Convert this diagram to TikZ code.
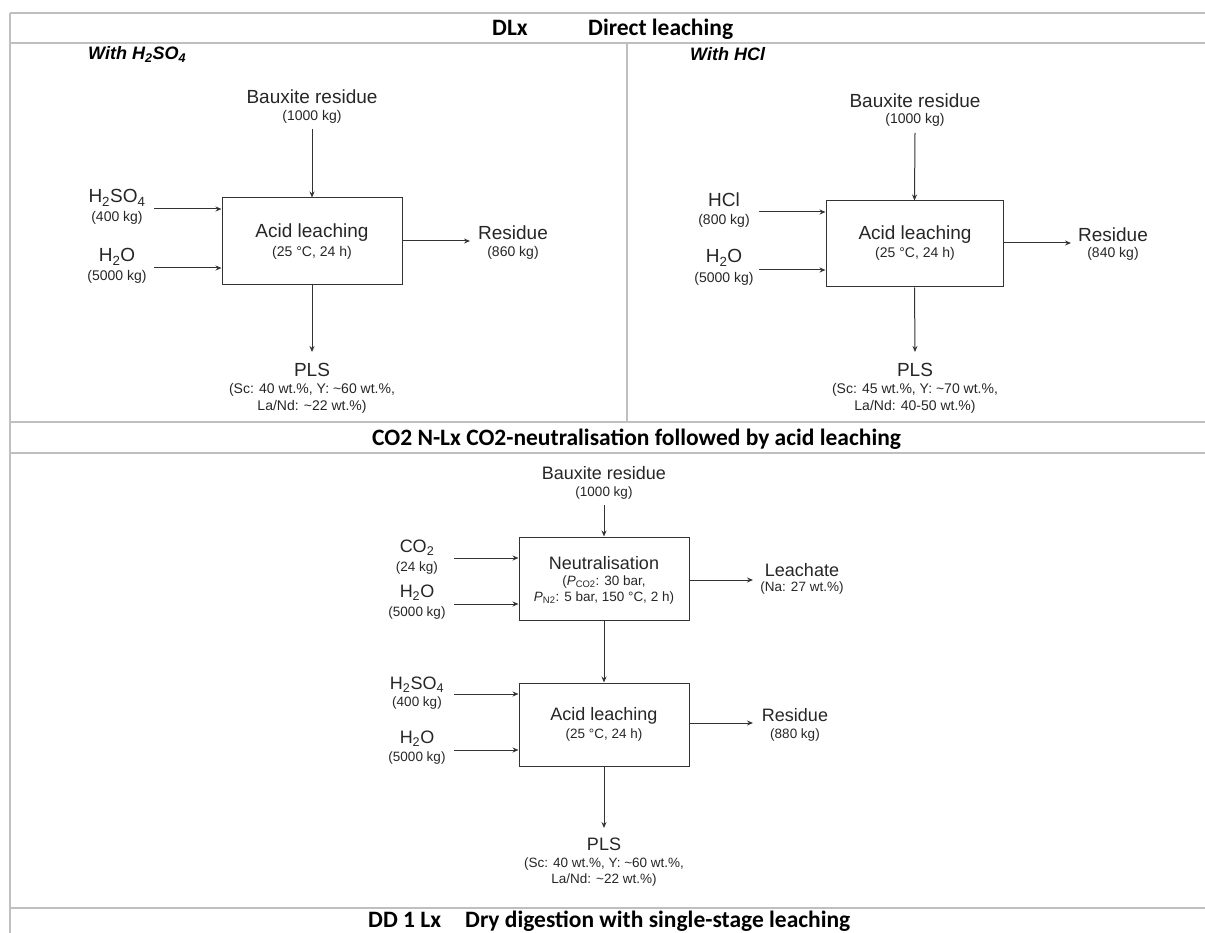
\documentclass[tikz,border=0pt]{standalone}
\usepackage{fontspec}
\setmainfont{Liberation Sans}
\newfontfamily\titlefont{Carlito}
\usetikzlibrary{arrows.meta}
\newcommand{\chsub}[1]{\textsubscript{#1}}
\begin{document}
\begin{tikzpicture}[x=1pt,y=-1pt,
    rule/.style={draw=black!25,line width=1.5pt},
    head/.style={font=\titlefont\bfseries\fontsize{23.5}{28}\selectfont,anchor=base west,inner sep=0pt},
    subhead/.style={font=\bfseries\itshape\fontsize{18}{21}\selectfont,anchor=base west,inner sep=0pt},
    lbl/.style={font=\fontsize{18}{21}\selectfont,text=black!85,inner sep=1pt},
    qty/.style={font=\fontsize{13.5}{16}\selectfont,text=black!85,inner sep=1pt,align=center},
    lblw/.style={font=\fontsize{19}{22}\selectfont,text=black!85,inner sep=1pt},
    qtyw/.style={font=\fontsize{14}{17}\selectfont,text=black!85,inner sep=1pt,align=center},
    proc/.style={draw=black!80,line width=1pt,inner sep=0pt},
    flow/.style={draw=black!80,line width=1pt,-{Stealth[length=6pt,width=5pt]}}]
    \useasboundingbox (0,0) rectangle (1205,933);
    \draw[rule] (10,13) -- (10,933);
    \draw[rule] (10,13) -- (1205,13);
    \draw[rule] (10,43) -- (1205,43);
    \draw[rule] (627,43) -- (627,422);
    \draw[rule] (10,422) -- (1205,422);
    \draw[rule] (10,453) -- (1205,453);
    \draw[rule] (10,908) -- (1205,908);
    \node[head] (dlx) at (492,35.5) {DLx};
    \node[head] (dlxname) at (588,35.5) {Direct leaching};
    \node[head] (nlx) at (372,445) {CO2 N-Lx CO2-neutralisation followed by acid leaching};
    \node[head] (ddlx) at (368,927) {DD 1 Lx};
    \node[head] (ddlxname) at (465,927) {Dry digestion with single-stage leaching};
    \node[subhead] (withA) at (88,60) {With H\chsub{2}SO\chsub{4}};
    \node[subhead] (withB) at (690,61) {With HCl};

    \node[lblw] (bauxA) at (312,97) {Bauxite residue};
    \node[qtyw] (bauxAq) at (312,117) {(1000 kg)};
    \node[proc,minimum width=180pt,minimum height=87pt] (leachA) at (312,241.5) {};
    \node[lblw] (leachAt) at (312,233) {Acid leaching};
    \node[qtyw] (leachAq) at (312,253) {(25 °C, 24 h)};
    \node[lblw] (acidA) at (117,198) {H\chsub{2}SO\chsub{4}};
    \node[qtyw] (acidAq) at (117,218) {(400 kg)};
    \node[lblw] (waterA) at (117,257) {H\chsub{2}O};
    \node[qtyw] (waterAq) at (117,277) {(5000 kg)};
    \node[lblw] (resA) at (513,233) {Residue};
    \node[qtyw] (resAq) at (513,253) {(860 kg)};
    \node[lblw] (plsA) at (312,370) {PLS};
    \node[qtyw] (plsAq) at (312,398) {(Sc: 40 wt.\%, Y: \textasciitilde60 wt.\%,\\La/Nd: \textasciitilde22 wt.\%)};
    \coordinate (topA) at (312,129);
    \coordinate (inA1) at (154,209);
    \coordinate (inA2) at (154,268);
    \coordinate (outA) at (470,241);
    \coordinate (downA) at (312,352);
    \draw[flow] (topA) -- (leachA.north);
    \draw[flow] (inA1) -- (inA1 -| leachA.west);
    \draw[flow] (inA2) -- (inA2 -| leachA.west);
    \draw[flow] (outA -| leachA.east) -- (outA);
    \draw[flow] (leachA.south) -- (downA);

    \node[lblw] (bauxB) at (915,101) {Bauxite residue};
    \node[qtyw] (bauxBq) at (915,120) {(1000 kg)};
    \node[proc,minimum width=177pt,minimum height=86pt] (leachB) at (914.5,244) {};
    \node[lblw] (leachBt) at (915,235) {Acid leaching};
    \node[qtyw] (leachBq) at (915,254) {(25 °C, 24 h)};
    \node[lblw] (acidB) at (724,200) {HCl};
    \node[qtyw] (acidBq) at (724,221) {(800 kg)};
    \node[lblw] (waterB) at (724,258) {H\chsub{2}O};
    \node[qtyw] (waterBq) at (724,279) {(5000 kg)};
    \node[lblw] (resB) at (1113,235) {Residue};
    \node[qtyw] (resBq) at (1113,254) {(840 kg)};
    \node[lblw] (plsB) at (915,370) {PLS};
    \node[qtyw] (plsBq) at (915,398) {(Sc: 45 wt.\%, Y: \textasciitilde70 wt.\%,\\La/Nd: 40-50 wt.\%)};
    \coordinate (topB) at (915,133);
    \coordinate (inB1) at (759,212);
    \coordinate (inB2) at (759,270);
    \coordinate (outB) at (1071,243);
    \coordinate (downB) at (915,352);
    \draw[flow] (topB) -- (leachB.north);
    \draw[flow] (inB1) -- (inB1 -| leachB.west);
    \draw[flow] (inB2) -- (inB2 -| leachB.west);
    \draw[flow] (outB -| leachB.east) -- (outB);
    \draw[flow] (leachB.south) -- (downB);

    \node[lbl] (bauxC) at (604,473) {Bauxite residue};
    \node[qty] (bauxCq) at (604,493) {(1000 kg)};
    \node[proc,minimum width=170pt,minimum height=83pt] (neut) at (604,578.5) {};
    \node[lbl] (neutt) at (604,563) {Neutralisation};
    \node[qty] (neutq) at (604,590) {(\textit{P}\chsub{CO2}: 30 bar,\\\textit{P}\chsub{N2}: 5 bar, 150 °C, 2 h)};
    \node[lbl] (co2) at (417,548) {CO\chsub{2}};
    \node[qty] (co2q) at (417,568) {(24 kg)};
    \node[lbl] (waterC) at (417,593) {H\chsub{2}O};
    \node[qty] (waterCq) at (417,613) {(5000 kg)};
    \node[lbl] (leachate) at (802,570) {Leachate};
    \node[qty] (leachateq) at (802,588) {(Na: 27 wt.\%)};
    \node[proc,minimum width=170pt,minimum height=83pt] (leachC) at (604,724.5) {};
    \node[lbl] (leachCt) at (604,716) {Acid leaching};
    \node[qty] (leachCq) at (604,735) {(25 °C, 24 h)};
    \node[lbl] (acidC) at (417,685) {H\chsub{2}SO\chsub{4}};
    \node[qty] (acidCq) at (417,703) {(400 kg)};
    \node[lbl] (waterD) at (417,739) {H\chsub{2}O};
    \node[qty] (waterDq) at (417,758) {(5000 kg)};
    \node[lbl] (resC) at (795,715) {Residue};
    \node[qty] (resCq) at (795,735) {(880 kg)};
    \node[lbl] (plsC) at (604,844) {PLS};
    \node[qty] (plsCq) at (604,872) {(Sc: 40 wt.\%, Y: \textasciitilde60 wt.\%,\\La/Nd: \textasciitilde22 wt.\%)};
    \coordinate (topC) at (604,505);
    \coordinate (inC1) at (454,558);
    \coordinate (inC2) at (454,604);
    \coordinate (outC1) at (753,580);
    \coordinate (inC3) at (454,694);
    \coordinate (inC4) at (454,750);
    \coordinate (outC2) at (753,723);
    \coordinate (downC) at (604,828);
    \draw[flow] (topC) -- (neut.north);
    \draw[flow] (inC1) -- (inC1 -| neut.west);
    \draw[flow] (inC2) -- (inC2 -| neut.west);
    \draw[flow] (outC1 -| neut.east) -- (outC1);
    \draw[flow] (neut.south) -- (leachC.north);
    \draw[flow] (inC3) -- (inC3 -| leachC.west);
    \draw[flow] (inC4) -- (inC4 -| leachC.west);
    \draw[flow] (outC2 -| leachC.east) -- (outC2);
    \draw[flow] (leachC.south) -- (downC);
\end{tikzpicture}
\end{document}
